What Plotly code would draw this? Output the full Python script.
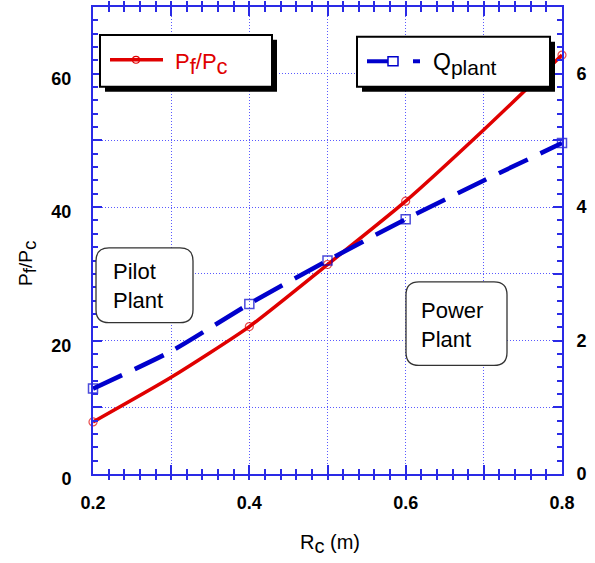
import plotly.graph_objects as go

# ---------------- data ----------------
R_c = [0.2, 0.3, 0.4, 0.5, 0.6, 0.7, 0.8]
pf_pc = [7.8, 14.5, 22.1, 31.4, 40.9, 51.6, 62.8]
q_plant = [1.28, 1.84, 2.55, 3.20, 3.82, 4.40, 4.96]
marker_shown = [1, 0, 1, 1, 1, 0, 1]

x_ticks = [0.2, 0.4, 0.6, 0.8]
x_ticktext = ["0.2", "0.4", "0.6", "0.8"]
y_ticks = [0, 20, 40, 60]
y_ticktext = ["0", "20", "40", "60"]
y2_ticks = [0, 2, 4, 6]
y2_ticktext = ["0", "2", "4", "6"]

# ---------------- geometry ----------------
W, H = 595, 563
ML, MR, MT, MB = 93, 33, 5, 89
PW, PH = W - ML - MR, H - MT - MB

def px(x):
    return (x - ML) / PW

def py(y):
    return (H - MB - y) / PH

AX = "#2a2ae6"
GRID = "#5a5aff"
RED = "#e00000"
BLUE = "#0000cc"
FONT = "Liberation Sans"

fig = go.Figure()

fig.add_trace(go.Scatter(
    x=R_c, y=pf_pc, name="Pf/Pc", mode="lines+markers",
    line=dict(color=RED, width=3.5, shape="spline", smoothing=0.6),
    marker=dict(symbol="circle-open", size=[8 * m for m in marker_shown],
                color=RED, line=dict(width=1.2, color=RED)),
    cliponaxis=False, showlegend=False))

fig.add_trace(go.Scatter(
    x=R_c, y=q_plant, name="Qplant", mode="lines+markers", yaxis="y2",
    line=dict(color=BLUE, width=4.5, dash="32px,14px", shape="spline", smoothing=0.6),
    marker=dict(symbol="square-open", size=[9 * m for m in marker_shown],
                color=BLUE, line=dict(width=1.5, color=BLUE)),
    cliponaxis=False, showlegend=False))

# empty traces so that the small-tick overlay axes get drawn
fig.add_trace(go.Scatter(x=[], y=[], xaxis="x2", yaxis="y3", showlegend=False, hoverinfo="skip"))
fig.add_trace(go.Scatter(x=[], y=[], xaxis="x2", yaxis="y4", showlegend=False, hoverinfo="skip"))

tickfont = dict(family=FONT, size=18, color="black", weight="bold")
grid = dict(showgrid=True, gridcolor=GRID, griddash="1px,2px", gridwidth=1)
tk = dict(ticks="inside", tickwidth=1.5, tickcolor=AX)
small = dict(ticks="inside", ticklen=5, tickwidth=1.5, tickcolor=AX, showgrid=False)

fig.update_layout(
    width=W, height=H, margin=dict(l=ML, r=MR, t=MT, b=MB),
    paper_bgcolor="white", plot_bgcolor="white", showlegend=False,
    xaxis=dict(range=[0.2, 0.8], tickmode="array", tickvals=x_ticks, ticktext=x_ticktext,
               ticklen=9, showline=True, linecolor=AX, linewidth=2, mirror="allticks",
               zeroline=False, tickfont=tickfont, ticklabelstandoff=11, **tk, **grid,
               minor=dict(tick0=0.2, dtick=0.1, ticklen=9, **tk, **grid)),
    xaxis2=dict(range=[0.2, 0.8], overlaying="x", anchor="y", side="bottom",
                showticklabels=False, showline=False, zeroline=False, mirror="allticks",
                tickmode="linear", tick0=0.2, dtick=0.02, **small),
    yaxis=dict(range=[0, 70], tickmode="array", tickvals=y_ticks, ticktext=y_ticktext,
               ticklen=9, showline=True, linecolor=AX, linewidth=2,
               zeroline=False, tickfont=tickfont, ticklabelstandoff=16,
               ticklabelshift=5, **tk, **grid,
               minor=dict(tick0=0, dtick=10, ticklen=9, **tk, **grid)),
    yaxis3=dict(range=[0, 70], overlaying="y", anchor="x", side="left",
                showticklabels=False, showline=False, zeroline=False,
                tickmode="linear", tick0=0, dtick=2, **small),
    yaxis2=dict(range=[0, 7], overlaying="y", side="right", anchor="x", tickmode="array",
                tickvals=y2_ticks, ticktext=y2_ticktext, ticklen=9,
                showline=True, linecolor=AX, linewidth=2, showgrid=False,
                zeroline=False, tickfont=tickfont, ticklabelstandoff=9, **tk,
                minor=dict(tick0=0, dtick=1, ticklen=9, ticks="inside", tickwidth=1.5,
                           tickcolor=AX, showgrid=False)),
    yaxis4=dict(range=[0, 7], overlaying="y", anchor="x", side="right",
                showticklabels=False, showline=False, zeroline=False,
                tickmode="linear", tick0=0, dtick=0.2, **small),
)

shapes = []
annotations = []

def rect(x0, y0, x1, y1, **kw):
    shapes.append(dict(type="rect", xref="paper", yref="paper",
                       x0=px(x0), x1=px(x1), y0=py(y1), y1=py(y0), layer="above", **kw))

def rounded(x0, y0, x1, y1, r):
    pts = [
        ("M", [(x0 + r, y0)]), ("L", [(x1 - r, y0)]), ("Q", [(x1, y0), (x1, y0 + r)]),
        ("L", [(x1, y1 - r)]), ("Q", [(x1, y1), (x1 - r, y1)]), ("L", [(x0 + r, y1)]),
        ("Q", [(x0, y1), (x0, y1 - r)]), ("L", [(x0, y0 + r)]), ("Q", [(x0, y0), (x0 + r, y0)]),
    ]
    s = ""
    for cmd, ps in pts:
        s += cmd + " " + " ".join(f"{px(a):.5f},{py(b):.5f}" for a, b in ps) + " "
    shapes.append(dict(type="path", xref="paper", yref="paper", path=s + "Z",
                       fillcolor="white", line=dict(color="#333333", width=1.3), layer="above"))

def text(x, y, t, size, color="black", xanchor="left", angle=0):
    annotations.append(dict(xref="paper", yref="paper", x=px(x), y=py(y), text=t,
                            showarrow=False, xanchor=xanchor, yanchor="middle",
                            align="left", textangle=angle,
                            font=dict(family=FONT, size=size, color=color)))

# legend 1 (Pf/Pc)
rect(105, 38, 277, 90, fillcolor="black", line=dict(width=0))
rect(100, 33, 272, 85, fillcolor="white", line=dict(color="black", width=2))
shapes.append(dict(type="line", xref="paper", yref="paper", x0=px(110), x1=px(163),
                   y0=py(58), y1=py(58), line=dict(color=RED, width=3.5), layer="above"))
shapes.append(dict(type="circle", xref="paper", yref="paper", x0=px(132.5), x1=px(139.5),
                   y0=py(61.5), y1=py(54.5), line=dict(color=RED, width=1.2), layer="above"))
text(173, 62, "P<sub><span style='font-size:22px'>f</span></sub>/P<sub><span style='font-size:22px'>c</span></sub>", 22, RED)

# legend 2 (Qplant)
rect(362, 40, 555, 90, fillcolor="black", line=dict(width=0))
rect(357, 35, 550, 85, fillcolor="white", line=dict(color="black", width=2))
shapes.append(dict(type="line", xref="paper", yref="paper", x0=px(367), x1=px(398),
                   y0=py(59.5), y1=py(59.5), line=dict(color=BLUE, width=4), layer="above"))
shapes.append(dict(type="rect", xref="paper", yref="paper", x0=px(388), x1=px(398),
                   y0=py(64), y1=py(55), fillcolor="white", line=dict(color=BLUE, width=1.5), layer="above"))
shapes.append(dict(type="line", xref="paper", yref="paper", x0=px(413), x1=px(420),
                   y0=py(59.5), y1=py(59.5), line=dict(color=BLUE, width=4), layer="above"))
text(431, 62, "Q<sub><span style='font-size:21px'>plant</span></sub>", 23, "black")

# region boxes
rounded(96, 247, 193, 322, 13)
text(111, 285, "Pilot<br>Plant", 22)
rounded(406, 281, 507, 365, 13)
text(419, 324, "Power<br>Plant", 22)

# axis titles
text(330, 544, "R<sub><span style='font-size:20px'>c</span></sub> (m)", 20, xanchor="center")
text(28, 263, "P<sub><span style='font-size:19px'>f</span></sub>/P<sub><span style='font-size:19px'>c</span></sub>", 19,
     xanchor="center", angle=-90)

fig.update_layout(shapes=shapes, annotations=annotations)

fig.write_html("out.html")
